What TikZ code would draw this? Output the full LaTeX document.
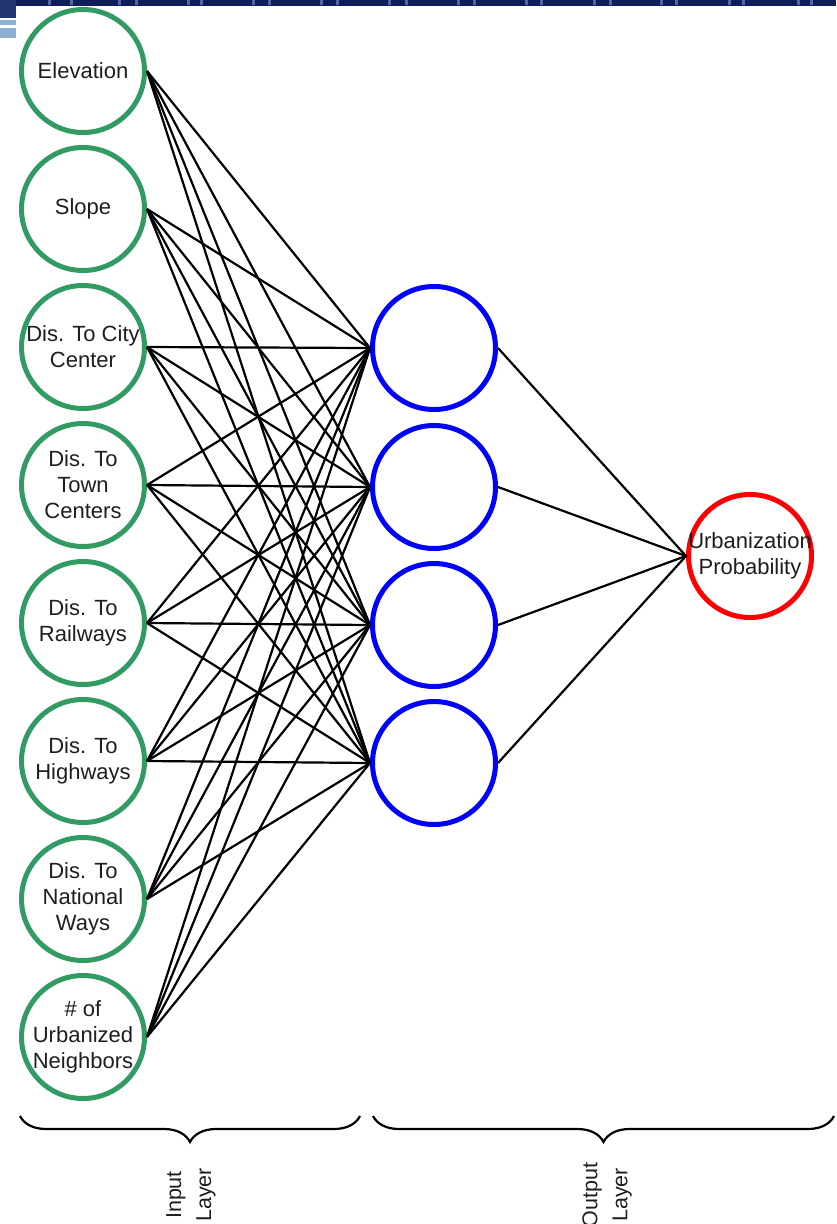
\documentclass[tikz,border=0pt]{standalone}
\usepackage{fontspec}
\setmainfont{Liberation Sans}
\usetikzlibrary{decorations.pathreplacing}
\definecolor{ingreen}{RGB}{50,155,100}
\definecolor{hidblue}{RGB}{0,0,255}
\definecolor{outred}{RGB}{255,0,0}
\definecolor{banner}{RGB}{14,30,90}
\definecolor{bannerlight}{RGB}{80,105,165}
\definecolor{paleblue}{RGB}{140,175,210}
\definecolor{txt}{RGB}{30,30,30}
\tikzset{
  neuron/.style={circle,minimum size=123pt,inner sep=0pt,line width=5pt},
  inneuron/.style={neuron,draw=ingreen},
  hidneuron/.style={neuron,draw=hidblue},
  outneuron/.style={neuron,draw=outred},
  lbl/.style={align=center,font=\fontsize{22}{26}\selectfont,text=txt,inner sep=0pt},
  wire/.style={line width=2.2pt,black},
  bracepath/.style={decorate,decoration={brace,amplitude=26pt},line width=2.2pt,black},
  layerlbl/.style={align=center,font=\fontsize{21.5}{30}\selectfont,text=txt,rotate=90,inner sep=0pt}
}
\begin{document}
\begin{tikzpicture}[x=1pt,y=-1pt]
\useasboundingbox (0,0) rectangle (836,1224);
\fill[white] (0,0) rectangle (836,1224);

% header strip
\fill[banner] (0,0) rectangle (836,6);
\foreach \x in {48,70,118,135,187,200,252,268,320,336,388,405,457,473,525,540,593,609,660,675,728,742,797,810}
  \fill[bannerlight] (\x,0) rectangle ++(3,5);
\fill[banner!70!bannerlight] (0,0) rectangle (16,18);
\fill[paleblue] (0,20) rectangle (16,25);
\fill[paleblue] (0,28) rectangle (16,38);

% input layer
\foreach \i/\y in {1/71,2/209,3/347,4/485,5/623,6/761,7/899,8/1037}
  \node[inneuron] (in\i) at (83,\y) {};
\node[lbl] (tin1) at (in1) {Elevation};
\node[lbl] (tin2) at (in2) {Slope};
\node[lbl] (tin3) at (in3) {Dis. To City\\Center};
\node[lbl] (tin4) at (in4) {Dis. To\\Town\\Centers};
\node[lbl] (tin5) at (in5) {Dis. To\\Railways};
\node[lbl] (tin6) at (in6) {Dis. To\\Highways};
\node[lbl] (tin7) at (in7) {Dis. To\\National\\Ways};
\node[lbl] (tin8) at (in8) {\# of\\Urbanized\\Neighbors};

% hidden layer
\foreach \j/\y in {1/348,2/487,3/625,4/763}
  \node[hidneuron] (hid\j) at (434,\y) {};

% output layer
\node[outneuron] (out) at (750,556) {};
\node[lbl] (tout) at (out) {Urbanization\\Probability};

% connections
\foreach \i in {1,...,8}
  \foreach \j in {1,...,4}
    \draw[wire] (in\i.east) -- (hid\j.west);
\foreach \j in {1,...,4}
  \draw[wire] (hid\j.east) -- (out.west);

% layer braces
\coordinate (b1s) at (360,1116);
\coordinate (b1e) at (20,1116);
\coordinate (b2s) at (834,1116);
\coordinate (b2e) at (373,1116);
\draw[bracepath] (b1s) -- (b1e);
\draw[bracepath] (b2s) -- (b2e);
\node[layerlbl] (linput) at (191,1195) {Input\\Layer};
\node[layerlbl] (loutput) at (607,1195) {Output\\Layer};
\end{tikzpicture}
\end{document}
